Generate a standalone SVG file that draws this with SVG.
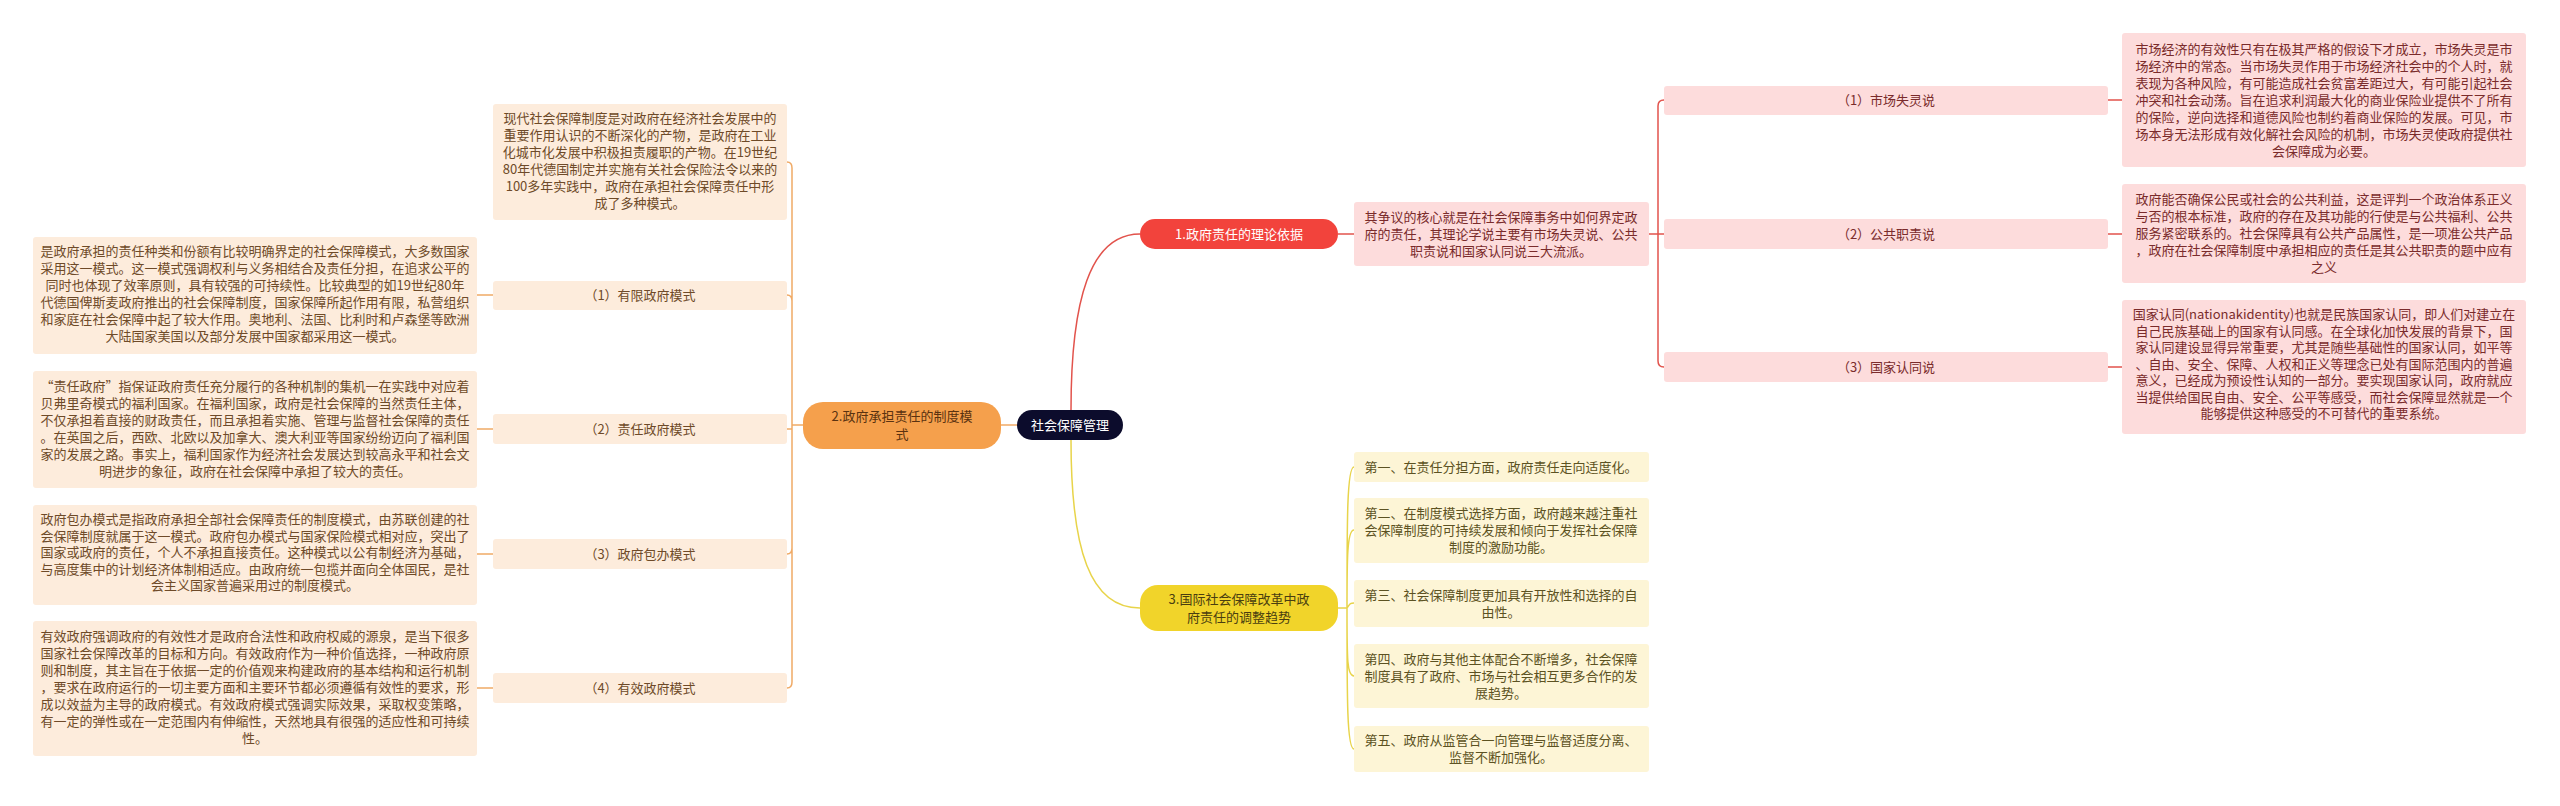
<svg xmlns="http://www.w3.org/2000/svg" width="2560" height="806" viewBox="0 0 2560 806">
<style>
text{font-family:"Noto Sans CJK SC","Noto Sans",sans-serif;font-size:13px;text-anchor:middle}
.c{fill:none;stroke-width:1.5}
.r{stroke:#e2534c}.o{stroke:#f0aa66}.y{stroke:#e8d44a}
.rl{fill:#fddcdc}.ol{fill:#fdecdc}.yl{fill:#fdf5d6}
.rt{fill:#7a2b2b}.ot{fill:#6e4a28}.yt{fill:#5c5222}
</style>
<rect width="2560" height="806" fill="#fff"/>
<g id="connectors">
<path class="c r" d="M1071 410 C1071 300 1090 234 1140 234"/>
<path class="c y" d="M1071 440 C1071 550 1090 608 1140 608"/>
<path class="c o" d="M1017 425 H1001"/>
<path class="c r" d="M1338 234 H1354"/>
<path class="c r" d="M1649 234 H1664 M1658 234 V106 Q1658 100 1664 100 M1658 234 V361 Q1658 367 1664 367"/>
<path class="c r" d="M2108 100 H2122 M2108 234 H2122 M2108 367 H2122"/>
<path class="c y" d="M1338 608 H1347 M1347 608 C1347 520 1347 467 1354 467 M1347 608 C1347 560 1347 530 1354 530 M1347 608 C1350 604 1350 603 1354 603 M1347 608 C1347 660 1347 676 1354 676 M1347 608 C1347 700 1347 749 1354 749"/>
<path class="c o" d="M803 425 H792 M792 425 V168 Q792 162 787 162 M792 425 V301 Q792 295 787 295 M792 425 V429 M792 425 V548 Q792 554 787 554 M792 425 V682 Q792 688 787 688 M792 429 H787"/>
<path class="c o" d="M493 295 H477 M493 429 H477 M493 554 H477 M493 688 H477"/>
</g>
<g id="center"><rect x="1017" y="410" width="106" height="30" rx="15" fill="#0c0c2c"/><text x="1070" y="430" fill="#fff" font-size="15">社会保障管理</text></g>
<g id="b1"><rect x="1140" y="219" width="198" height="30" rx="15" fill="#f2433c"/><text x="1239" y="239" fill="#fff" font-size="14">1.政府责任的理论依据</text></g>
<g id="b1d"><rect class="rl" x="1354" y="202" width="295" height="64" rx="3"/><text class="rt" x="1501" y="222">其争议的核心就是在社会保障事务中如何界定政<tspan x="1501" dy="17">府的责任，其理论学说主要有市场失灵说、公共</tspan><tspan x="1501" dy="17">职责说和国家认同说三大流派。</tspan></text></g>
<g id="r1"><rect class="rl" x="1664" y="86" width="444" height="29" rx="3"/><text class="rt" x="1886" y="105">（1）市场失灵说</text></g>
<g id="r2"><rect class="rl" x="1664" y="219" width="444" height="30" rx="3"/><text class="rt" x="1886" y="239">（2）公共职责说</text></g>
<g id="r3"><rect class="rl" x="1664" y="352" width="444" height="30" rx="3"/><text class="rt" x="1886" y="372">（3）国家认同说</text></g>
<g id="r1l"><rect class="rl" x="2122" y="33" width="404" height="134" rx="3"/><text class="rt" x="2324" y="54">市场经济的有效性只有在极其严格的假设下才成立，市场失灵是市<tspan x="2324" dy="17">场经济中的常态。当市场失灵作用于市场经济社会中的个人时，就</tspan><tspan x="2324" dy="17">表现为各种风险，有可能造成社会贫富差距过大，有可能引起社会</tspan><tspan x="2324" dy="17">冲突和社会动荡。旨在追求利润最大化的商业保险业提供不了所有</tspan><tspan x="2324" dy="17">的保险，逆向选择和道德风险也制约着商业保险的发展。可见，市</tspan><tspan x="2324" dy="17">场本身无法形成有效化解社会风险的机制，市场失灵使政府提供社</tspan><tspan x="2324" dy="17">会保障成为必要。</tspan></text></g>
<g id="r2l"><rect class="rl" x="2122" y="184" width="404" height="99" rx="3"/><text class="rt" x="2324" y="204">政府能否确保公民或社会的公共利益，这是评判一个政治体系正义<tspan x="2324" dy="17">与否的根本标准，政府的存在及其功能的行使是与公共福利、公共</tspan><tspan x="2324" dy="17">服务紧密联系的。社会保障具有公共产品属性，是一项准公共产品</tspan><tspan x="2324" dy="17">，政府在社会保障制度中承担相应的责任是其公共职责的题中应有</tspan><tspan x="2324" dy="17">之义</tspan></text></g>
<g id="r3l"><rect class="rl" x="2122" y="300" width="404" height="134" rx="3"/><text class="rt" x="2324" y="319">国家认同(nationakidentity)也就是民族国家认同，即人们对建立在<tspan x="2324" dy="16.5">自己民族基础上的国家有认同感。在全球化加快发展的背景下，国</tspan><tspan x="2324" dy="16.5">家认同建设显得异常重要，尤其是随些基础性的国家认同，如平等</tspan><tspan x="2324" dy="16.5">、自由、安全、保障、人权和正义等理念已处有国际范围内的普遍</tspan><tspan x="2324" dy="16.5">意义，已经成为预设性认知的一部分。要实现国家认同，政府就应</tspan><tspan x="2324" dy="16.5">当提供给国民自由、安全、公平等感受，而社会保障显然就是一个</tspan><tspan x="2324" dy="16.5">能够提供这种感受的不可替代的重要系统。</tspan></text></g>
<g id="b3"><rect x="1140" y="585" width="198" height="46" rx="18" fill="#f1d42a"/><text x="1239" y="604" fill="#4a3e10" font-size="14">3.国际社会保障改革中政<tspan x="1239" dy="18">府责任的调整趋势</tspan></text></g>
<g id="y1"><rect class="yl" x="1354" y="452" width="295" height="30" rx="3"/><text class="yt" x="1501" y="472">第一、在责任分担方面，政府责任走向适度化。</text></g>
<g id="y2"><rect class="yl" x="1354" y="498" width="295" height="65" rx="3"/><text class="yt" x="1501" y="518">第二、在制度模式选择方面，政府越来越注重社<tspan x="1501" dy="17">会保障制度的可持续发展和倾向于发挥社会保障</tspan><tspan x="1501" dy="17">制度的激励功能。</tspan></text></g>
<g id="y3"><rect class="yl" x="1354" y="580" width="295" height="47" rx="3"/><text class="yt" x="1501" y="600">第三、社会保障制度更加具有开放性和选择的自<tspan x="1501" dy="17">由性。</tspan></text></g>
<g id="y4"><rect class="yl" x="1354" y="644" width="295" height="64" rx="3"/><text class="yt" x="1501" y="664">第四、政府与其他主体配合不断增多，社会保障<tspan x="1501" dy="17">制度具有了政府、市场与社会相互更多合作的发</tspan><tspan x="1501" dy="17">展趋势。</tspan></text></g>
<g id="y5"><rect class="yl" x="1354" y="726" width="295" height="46" rx="3"/><text class="yt" x="1501" y="745">第五、政府从监管合一向管理与监督适度分离、<tspan x="1501" dy="17">监督不断加强化。</tspan></text></g>
<g id="b2"><rect x="803" y="402" width="198" height="47" rx="20" fill="#f5a04c"/><text x="902" y="421" fill="#5a3210" font-size="14">2.政府承担责任的制度模<tspan x="902" dy="18">式</tspan></text></g>
<g id="o0"><rect class="ol" x="493" y="104" width="294" height="116" rx="3"/><text class="ot" x="640" y="123">现代社会保障制度是对政府在经济社会发展中的<tspan x="640" dy="17">重要作用认识的不断深化的产物，是政府在工业</tspan><tspan x="640" dy="17">化城市化发展中积极担责履职的产物。在19世纪</tspan><tspan x="640" dy="17">80年代德国制定并实施有关社会保险法令以来的</tspan><tspan x="640" dy="17">100多年实践中，政府在承担社会保障责任中形</tspan><tspan x="640" dy="17">成了多种模式。</tspan></text></g>
<g id="o1"><rect class="ol" x="493" y="281" width="294" height="29" rx="3"/><text class="ot" x="640" y="300">（1）有限政府模式</text></g>
<g id="o2"><rect class="ol" x="493" y="414" width="294" height="30" rx="3"/><text class="ot" x="640" y="434">（2）责任政府模式</text></g>
<g id="o3"><rect class="ol" x="493" y="539" width="294" height="30" rx="3"/><text class="ot" x="640" y="559">（3）政府包办模式</text></g>
<g id="o4"><rect class="ol" x="493" y="673" width="294" height="30" rx="3"/><text class="ot" x="640" y="693">（4）有效政府模式</text></g>
<g id="o1l"><rect class="ol" x="33" y="237" width="444" height="117" rx="3"/><text class="ot" x="255" y="256">是政府承担的责任种类和份额有比较明确界定的社会保障模式，大多数国家<tspan x="255" dy="17">采用这一模式。这一模式强调权利与义务相结合及责任分担，在追求公平的</tspan><tspan x="255" dy="17">同时也体现了效率原则，具有较强的可持续性。比较典型的如19世纪80年</tspan><tspan x="255" dy="17">代德国俾斯麦政府推出的社会保障制度，国家保障所起作用有限，私营组织</tspan><tspan x="255" dy="17">和家庭在社会保障中起了较大作用。奥地利、法国、比利时和卢森堡等欧洲</tspan><tspan x="255" dy="17">大陆国家美国以及部分发展中国家都采用这一模式。</tspan></text></g>
<g id="o2l"><rect class="ol" x="33" y="371" width="444" height="117" rx="3"/><text class="ot" x="255" y="391">“责任政府”指保证政府责任充分履行的各种机制的集机一在实践中对应着<tspan x="255" dy="17">贝弗里奇模式的福利国家。在福利国家，政府是社会保障的当然责任主体，</tspan><tspan x="255" dy="17">不仅承担着直接的财政责任，而且承担着实施、管理与监督社会保障的责任</tspan><tspan x="255" dy="17">。在英国之后，西欧、北欧以及加拿大、澳大利亚等国家纷纷迈向了福利国</tspan><tspan x="255" dy="17">家的发展之路。事实上，福利国家作为经济社会发展达到较高永平和社会文</tspan><tspan x="255" dy="17">明进步的象征，政府在社会保障中承担了较大的责任。</tspan></text></g>
<g id="o3l"><rect class="ol" x="33" y="505" width="444" height="100" rx="3"/><text class="ot" x="255" y="524">政府包办模式是指政府承担全部社会保障责任的制度模式，由苏联创建的社<tspan x="255" dy="16.5">会保障制度就属于这一模式。政府包办模式与国家保险模式相对应，突出了</tspan><tspan x="255" dy="16.5">国家或政府的责任，个人不承担直接责任。这种模式以公有制经济为基础，</tspan><tspan x="255" dy="16.5">与高度集中的计划经济体制相适应。由政府统一包揽并面向全体国民，是社</tspan><tspan x="255" dy="16.5">会主义国家普遍采用过的制度模式。</tspan></text></g>
<g id="o4l"><rect class="ol" x="33" y="621" width="444" height="135" rx="3"/><text class="ot" x="255" y="641">有效政府强调政府的有效性才是政府合法性和政府权威的源泉，是当下很多<tspan x="255" dy="17">国家社会保障改革的目标和方向。有效政府作为一种价值选择，一种政府原</tspan><tspan x="255" dy="17">则和制度，其主旨在于依据一定的价值观来构建政府的基本结构和运行机制</tspan><tspan x="255" dy="17">，要求在政府运行的一切主要方面和主要环节都必须遵循有效性的要求，形</tspan><tspan x="255" dy="17">成以效益为主导的政府模式。有效政府模式强调实际效果，采取权变策略，</tspan><tspan x="255" dy="17">有一定的弹性或在一定范围内有伸缩性，天然地具有很强的适应性和可持续</tspan><tspan x="255" dy="17">性。</tspan></text></g>
</svg>
